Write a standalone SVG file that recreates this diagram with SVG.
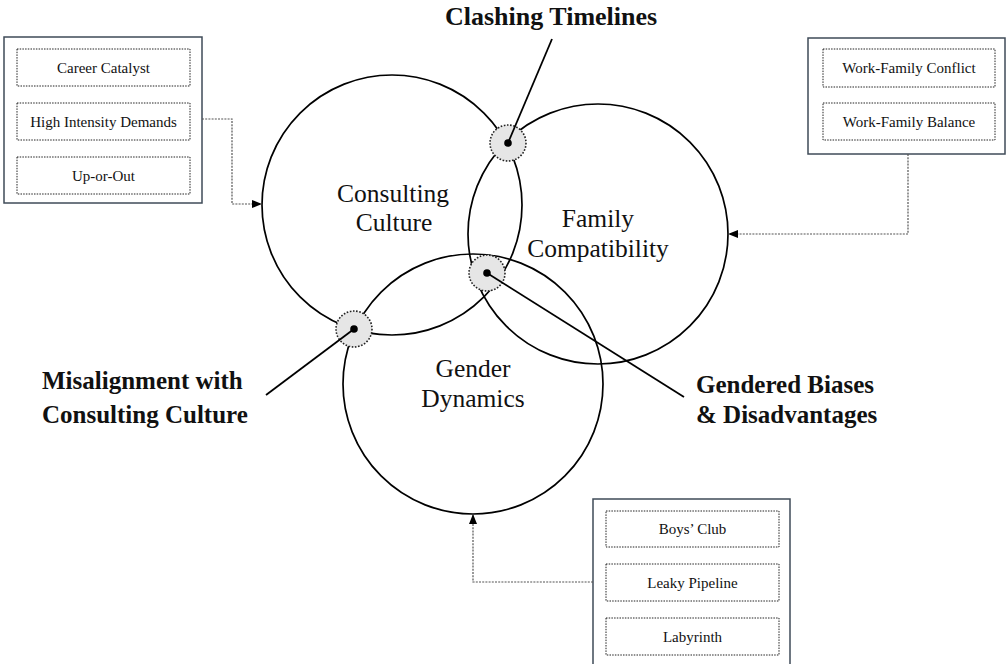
<svg xmlns="http://www.w3.org/2000/svg" width="1006" height="664" viewBox="0 0 1006 664">
<style>
.bg{fill:#ffffff}
.big{fill:none;stroke:#000;stroke-width:1.7}
.spot{fill:#e6e6e6;stroke:#222;stroke-width:1.6;stroke-dasharray:1.6 1.6}
.dot{fill:#000}
.lead{stroke:#000;stroke-width:1.8;fill:none}
.outer{fill:#fff;stroke:#3f4b58;stroke-width:1.5}
.inner{fill:#fff;stroke:#222;stroke-width:1;stroke-dasharray:1.5 1.2}
.conn{fill:none;stroke:#555;stroke-width:1.2;stroke-dasharray:2 1.2}
.lbl{font-family:"Liberation Serif","Times New Roman",serif;font-size:25.5px;fill:#111;text-anchor:middle}
.bold{font-family:"Liberation Serif","Times New Roman",serif;font-size:25px;font-weight:bold;fill:#111}
.item{font-family:"Liberation Serif","Times New Roman",serif;font-size:15px;fill:#111;text-anchor:middle}
</style>
<defs>
<marker id="arr" viewBox="0 0 10 10" refX="10" refY="5" markerWidth="10" markerHeight="10" markerUnits="userSpaceOnUse" orient="auto">
<path d="M0,1 L10,5 L0,9 Z" fill="#000"/>
</marker>
</defs>
<rect class="bg" x="0" y="0" width="1006" height="664"/>

<g id="consulting-culture">
<circle class="big" cx="392" cy="205" r="130"/>
<text class="lbl" x="393" y="202">Consulting</text>
<text class="lbl" x="394" y="231">Culture</text>
</g>
<g id="family-compatibility">
<circle class="big" cx="598" cy="234" r="130"/>
<text class="lbl" x="598" y="227">Family</text>
<text class="lbl" x="598" y="257">Compatibility</text>
</g>
<g id="gender-dynamics">
<circle class="big" cx="473" cy="384" r="130"/>
<text class="lbl" x="473" y="377">Gender</text>
<text class="lbl" x="473" y="407">Dynamics</text>
</g>

<g id="clashing-timelines">
<circle class="spot" cx="508" cy="143" r="18"/>
<circle class="dot" cx="508" cy="143" r="3.8"/>
<line class="lead" x1="508" y1="143" x2="552" y2="39"/>
<text class="bold" x="445" y="25" style="font-size:26px">Clashing Timelines</text>
</g>
<g id="gendered-biases">
<circle class="spot" cx="487" cy="273" r="18"/>
<circle class="dot" cx="487" cy="273" r="3.8"/>
<line class="lead" x1="487" y1="273" x2="684" y2="397"/>
<text class="bold" x="696" y="393">Gendered Biases</text>
<text class="bold" x="696" y="423">&amp; Disadvantages</text>
</g>
<g id="misalignment">
<circle class="spot" cx="354" cy="329" r="18"/>
<circle class="dot" cx="354" cy="329" r="3.8"/>
<line class="lead" x1="354" y1="329" x2="266" y2="395"/>
<text class="bold" x="42" y="389">Misalignment with</text>
<text class="bold" x="42" y="423">Consulting Culture</text>
</g>

<g id="consulting-box">
<rect class="outer" x="4" y="37" width="198" height="166"/>
<rect class="inner" x="17" y="49" width="173" height="37"/>
<rect class="inner" x="17" y="103" width="173" height="37"/>
<rect class="inner" x="17" y="157" width="173" height="37"/>
<text class="item" x="103.5" y="73">Career Catalyst</text>
<text class="item" x="103.5" y="127">High Intensity Demands</text>
<text class="item" x="103.5" y="181">Up-or-Out</text>
</g>
<g id="family-box">
<rect class="outer" x="808" y="38" width="197" height="116"/>
<rect class="inner" x="823" y="49" width="172" height="38"/>
<rect class="inner" x="823" y="103" width="172" height="37"/>
<text class="item" x="909" y="73">Work-Family Conflict</text>
<text class="item" x="909" y="127">Work-Family Balance</text>
</g>
<g id="gender-box">
<rect class="outer" x="593" y="499" width="197" height="170"/>
<rect class="inner" x="606" y="511" width="173" height="36"/>
<rect class="inner" x="606" y="564" width="173" height="37"/>
<rect class="inner" x="606" y="618" width="173" height="37"/>
<text class="item" x="692.5" y="534">Boys’ Club</text>
<text class="item" x="692.5" y="588">Leaky Pipeline</text>
<text class="item" x="692.5" y="642">Labyrinth</text>
</g>

<g id="connectors">
<path class="conn" d="M202,119 H232 V204 H262" marker-end="url(#arr)"/>
<path class="conn" d="M908,154 V234 H728" marker-end="url(#arr)"/>
<path class="conn" d="M593,582 H473 V514" marker-end="url(#arr)"/>
</g>
</svg>
